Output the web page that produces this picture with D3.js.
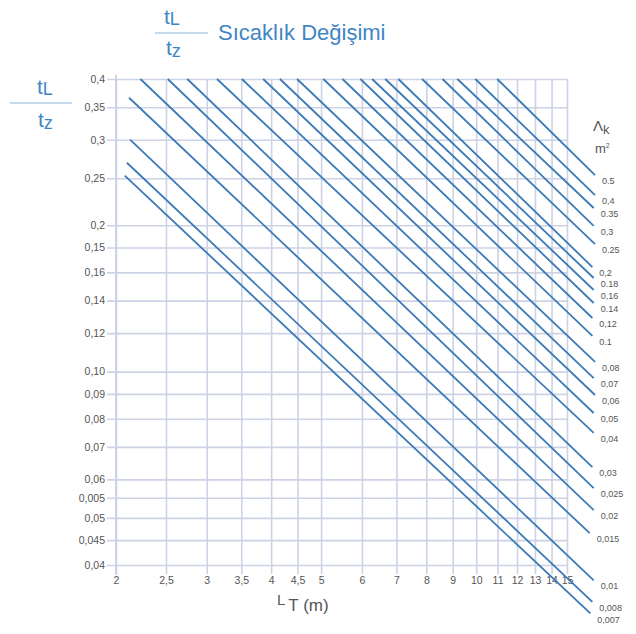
<!DOCTYPE html>
<html>
<head>
<meta charset="utf-8">
<script src="https://cdn.jsdelivr.net/npm/d3@7/dist/d3.min.js"></script>
<style>
  html, body { margin: 0; padding: 0; background: #ffffff; }
  svg { display: block; font-family: "Liberation Sans", Arial, sans-serif; }
</style>
</head>
<body>
<svg id="chart" width="636" height="634"></svg>
<script>
// ---- data ----
const xTicks = [2, 2.5, 3, 3.5, 4, 4.5, 5, 6, 7, 8, 9, 10, 11, 12, 13, 14, 15];
const xTickLabels = ["2", "2,5", "3", "3,5", "4", "4,5", "5", "6", "7", "8", "9", "10", "11", "12", "13", "14", "15"];
const yTicks = [0.4, 0.35, 0.3, 0.25, 0.2, 0.18, 0.16, 0.14, 0.12, 0.10, 0.09, 0.08, 0.07, 0.06, 0.055, 0.05, 0.045, 0.04];
const yTickLabels = ["0,4", "0,35", "0,3", "0,25", "0,2", "0,15", "0,16", "0,14", "0,12", "0,10", "0,09", "0,08", "0,07", "0,06", "0,005", "0,05", "0,045", "0,04"];

// curve labels (Λk, m²) and start / end points of each line (L_T, tL/tz)
const lambdaLabels = ["0.5", "0,4", "0.35", "0,3", "0.25", "0,2", "0.18", "0,16", "0.14", "0,12", "0.1", "0,08", "0,07", "0,06", "0,05", "0,04", "0,03", "0,025", "0,02", "0,015", "0,01", "0,008", "0,007"];
const startX = [10.98, 9.96, 9.19, 8.60, 7.85, 7.06, 6.66, 6.28, 5.96, 5.50, 5.05, 4.49, 4.16, 3.86, 3.51, 3.14, 2.75, 2.52, 2.23, 2.12, 2.13, 2.10, 2.08];
const startY = [0.40, 0.40, 0.40, 0.40, 0.40, 0.40, 0.40, 0.40, 0.40, 0.40, 0.40, 0.40, 0.40, 0.40, 0.40, 0.40, 0.40, 0.40, 0.40, 0.366, 0.300, 0.269, 0.253];
const endX = [17.0, 17.0, 16.9, 16.9, 17.0, 16.8, 16.9, 16.9, 16.9, 16.8, 16.8, 17.0, 16.9, 17.0, 16.9, 16.9, 16.8, 16.9, 16.9, 16.6, 16.9, 16.8, 16.65];
const endY = [0.2538, 0.2308, 0.2171, 0.1994, 0.1830, 0.1641, 0.1558, 0.1472, 0.1384, 0.1289, 0.1184, 0.1047, 0.0970, 0.0895, 0.0822, 0.0748, 0.0636, 0.0576, 0.0519, 0.0465, 0.0372, 0.0336, 0.0318];

// ---- drawing ----
const svg = d3.select("#chart");
const x = d3.scaleLog().domain([2, 15]).range([116, 567]);
const y = d3.scaleLog().domain([0.04, 0.4]).range([565, 79]);

const gridColor = "#cdd2e6";
const textGray = "#555555";
const blue = "#3f86c4";
const lineBlue = "#3b7ab6";

// horizontal grid + y ticks
const yAxis = d3.axisLeft(y).tickValues(yTicks)
  .tickSize(-(x(15) - x(2)))
  .tickPadding(12)
  .tickFormat((d, i) => yTickLabels[i]);
const gy = svg.append("g").attr("transform", `translate(${x(2)},0)`).call(yAxis);
gy.select(".domain").remove();
gy.selectAll(".tick line").attr("stroke", gridColor).attr("stroke-width", 1.6).attr("x1", -9);
gy.selectAll(".tick text").attr("fill", textGray).attr("font-size", 10.5).attr("x", -11);

// vertical grid + x ticks
const xAxis = d3.axisBottom(x).tickValues(xTicks)
  .tickSize(-(y(0.04) - y(0.4)))
  .tickPadding(12)
  .tickFormat((d, i) => xTickLabels[i]);
const gx = svg.append("g").attr("transform", `translate(0,${y(0.04)})`).call(xAxis);
gx.select(".domain").remove();
gx.selectAll(".tick line").attr("stroke", gridColor).attr("stroke-width", 1.6).attr("y1", 9);
gx.selectAll(".tick text").attr("fill", textGray).attr("font-size", 10.5).attr("y", 12);

// left axis line
svg.append("line")
  .attr("x1", x(2)).attr("x2", x(2))
  .attr("y1", y(0.4) - 4).attr("y2", y(0.04) + 10)
  .attr("stroke", gridColor).attr("stroke-width", 2);

// curves
const line = d3.line().x(d => x(d[0])).y(d => y(d[1]));
const curves = lambdaLabels.map((lab, i) => ({
  label: lab,
  pts: [[startX[i], startY[i]], [endX[i], endY[i]]]
}));
svg.append("g").selectAll("path").data(curves).join("path")
  .attr("d", d => line(d.pts))
  .attr("fill", "none")
  .attr("stroke", lineBlue)
  .attr("stroke-width", 1.8);

// curve labels
svg.append("g").selectAll("text").data(curves).join("text")
  .attr("x", d => x(d.pts[1][0]) + 7)
  .attr("y", d => y(d.pts[1][1]) + 6)
  .attr("dy", "0.35em")
  .attr("fill", textGray)
  .attr("font-size", 9)
  .text(d => d.label);

// right legend title Λk / m²
const lt = svg.append("text").attr("x", 593).attr("y", 131).attr("fill", textGray).attr("font-size", 15);
lt.append("tspan").text("Λ");
lt.append("tspan").attr("font-size", 13).attr("dy", 3).text("k");
const lm = svg.append("text").attr("x", 595).attr("y", 153).attr("fill", textGray).attr("font-size", 13);
lm.append("tspan").text("m");
lm.append("tspan").attr("font-size", 7).attr("dy", -5).text("2");

// top title
const tg = svg.append("g");
tg.append("line").attr("x1", 155).attr("x2", 208).attr("y1", 33).attr("y2", 33)
  .attr("stroke", "#8fb4d8").attr("stroke-width", 1);
const tl = tg.append("text").attr("x", 164).attr("y", 24).attr("fill", blue).attr("font-size", 21);
tl.append("tspan").text("t");
tl.append("tspan").attr("font-size", 18).attr("dy", 1).text("L");
const tz = tg.append("text").attr("x", 166).attr("y", 55).attr("fill", blue).attr("font-size", 21);
tz.append("tspan").text("t");
tz.append("tspan").attr("font-size", 18).attr("dy", 2).text("z");
tg.append("text").attr("x", 218).attr("y", 40).attr("fill", blue).attr("font-size", 22)
  .text("Sıcaklık Değişimi");

// left y title
const yg = svg.append("g");
yg.append("line").attr("x1", 10).attr("x2", 72).attr("y1", 103).attr("y2", 103)
  .attr("stroke", "#8fb4d8").attr("stroke-width", 1);
const ytl = yg.append("text").attr("x", 37).attr("y", 94).attr("fill", blue).attr("font-size", 21);
ytl.append("tspan").text("t");
ytl.append("tspan").attr("font-size", 18).attr("dy", 1).text("L");
const ytz = yg.append("text").attr("x", 38).attr("y", 127).attr("fill", blue).attr("font-size", 21);
ytz.append("tspan").text("t");
ytz.append("tspan").attr("font-size", 18).attr("dy", 2).text("z");

// x title
const xt = svg.append("text").attr("x", 277).attr("y", 605).attr("fill", textGray);
xt.append("tspan").attr("font-size", 15).text("L");
xt.append("tspan").attr("font-size", 17).attr("dx", 3).attr("dy", 6).text("T (m)");
</script>
</body>
</html>
